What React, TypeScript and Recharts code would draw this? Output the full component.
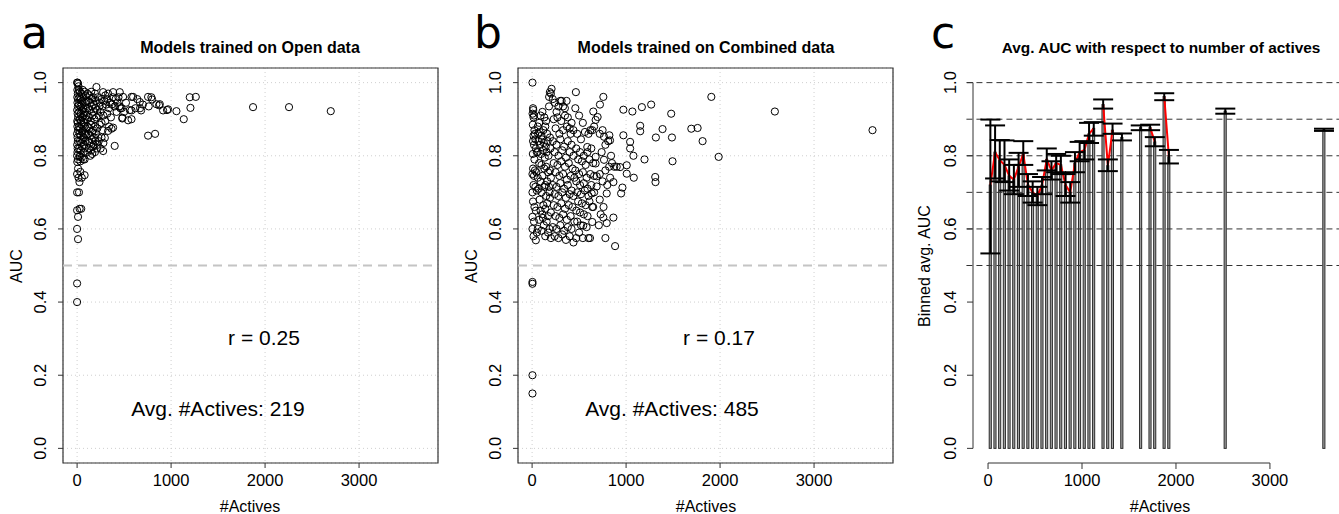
import React from 'react';
import {
  ComposedChart, Scatter, XAxis, YAxis, CartesianGrid, ReferenceLine,
  ReferenceArea, Bar, Line, ErrorBar,
} from 'recharts';

const FONT = '"Liberation Sans", Arial, Helvetica, sans-serif';

// Panel a: Models trained on Open data  [#Actives, AUC]
const openPoints: [number, number][] = [
  [0,1.0],[5,1.0],[10,0.997],[3,0.98],[8,0.97],[2,0.96],[12,0.955],[4,0.945],[9,0.935],[1,0.925],[6,0.915],[11,0.905],[2,0.895],[7,0.89],[3,0.88],[10,0.87],[0,0.86],[5,0.85],[8,0.84],[1,0.83],[6,0.82],[4,0.81],[0,0.80],[9,0.79],[2,0.783],[10,0.765],[0,0.75],[15,0.74],[25,0.728],[0,0.70],[20,0.70],[0,0.651],[27,0.655],[44,0.655],[10,0.633],[0,0.60],[10,0.572],[0,0.451],[0,0.40],
  [15,0.99],[20,0.98],[30,0.975],[45,0.97],[60,0.98],[80,0.975],[25,0.96],[40,0.955],[55,0.95],[70,0.96],[90,0.965],[18,0.94],[35,0.935],[50,0.94],[65,0.93],[85,0.945],[100,0.95],[22,0.92],[38,0.915],[52,0.925],[68,0.91],[82,0.92],[95,0.93],[28,0.90],[42,0.895],[58,0.905],[72,0.89],[88,0.90],[100,0.91],[20,0.88],[33,0.875],[48,0.885],[62,0.87],[78,0.88],[92,0.875],[25,0.86],[40,0.855],[55,0.865],[70,0.85],[85,0.86],[98,0.855],[30,0.84],[45,0.835],[60,0.845],[75,0.83],[90,0.84],[22,0.82],[38,0.815],[52,0.825],[68,0.81],[80,0.82],[30,0.80],[50,0.795],[65,0.79],[35,0.785],[80,0.79],[110,0.81],[27,0.797],[80,0.747],[35,0.756],[50,0.74],
  [110,0.97],[130,0.965],[150,0.975],[170,0.96],[206,0.988],[190,0.97],[120,0.95],[140,0.945],[160,0.955],[180,0.94],[200,0.95],[220,0.96],[240,0.945],[115,0.93],[135,0.925],[155,0.935],[175,0.92],[195,0.93],[215,0.925],[235,0.935],[105,0.90],[125,0.905],[145,0.895],[165,0.91],[185,0.90],[205,0.905],[230,0.91],[250,0.92],[110,0.88],[130,0.875],[150,0.885],[170,0.87],[190,0.88],[215,0.875],[240,0.885],[120,0.86],[140,0.855],[160,0.865],[180,0.85],[200,0.86],[225,0.85],[115,0.84],[135,0.835],[155,0.845],[175,0.83],[195,0.84],[220,0.83],[125,0.82],[150,0.815],[170,0.825],[190,0.81],[210,0.82],[140,0.80],[160,0.805],[230,0.84],
  [277,0.974],[300,0.965],[330,0.97],[383,0.974],[454,0.974],[260,0.955],[290,0.95],[320,0.955],[350,0.945],[380,0.96],[410,0.955],[440,0.96],[489,0.961],[270,0.935],[310,0.94],[340,0.93],[370,0.94],[400,0.935],[430,0.945],[460,0.93],[474,0.93],[450,0.935],[280,0.91],[320,0.915],[360,0.905],[420,0.92],[500,0.92],[483,0.904],[480,0.902],[260,0.89],[300,0.895],[340,0.88],[270,0.87],[330,0.868],[366,0.874],[383,0.877],[295,0.849],[277,0.813],[400,0.827],[260,0.85],[280,0.835],[250,0.82],
  [543,0.897],[560,0.925],[579,0.924],[579,0.961],[596,0.961],[579,0.90],[667,0.947],[670,0.93],[681,0.924],[755,0.961],[762,0.935],[790,0.96],[798,0.954],[844,0.941],[872,0.938],[880,0.941],[915,0.924],[957,0.925],[968,0.927],[1057,0.922],[1135,0.90],[1199,0.96],[1206,0.931],[1263,0.961],[755,0.855],[830,0.86],[620,0.93],[520,0.945],[640,0.955],[700,0.94],
  [1872,0.933],[2255,0.933],[2699,0.922],
];

// Panel b: Models trained on Combined data  [#Actives, AUC]
const combinedPoints: [number, number][] = [
  [4,1.0],[10,0.93],[12,0.925],[5,0.915],[15,0.905],[20,0.91],[8,0.885],[25,0.87],[15,0.855],[30,0.86],[10,0.84],[35,0.845],[20,0.83],[40,0.82],[8,0.805],[50,0.81],[25,0.79],[10,0.765],[30,0.76],[4,0.75],[20,0.745],[45,0.755],[15,0.72],[35,0.715],[4,0.70],[50,0.705],[10,0.675],[25,0.66],[40,0.65],[4,0.633],[20,0.62],[4,0.60],[15,0.58],[40,0.569],[50,0.59],[4,0.455],[4,0.45],[4,0.20],[4,0.15],
  [60,0.88],[75,0.89],[90,0.91],[110,0.92],[130,0.905],[150,0.895],[65,0.86],[80,0.865],[100,0.855],[120,0.87],[140,0.88],[160,0.86],[180,0.935],[181,0.961],[189,0.974],[207,0.983],[200,0.97],[70,0.84],[85,0.83],[105,0.845],[125,0.835],[145,0.825],[165,0.84],[190,0.85],[60,0.81],[95,0.805],[115,0.815],[135,0.795],[155,0.81],[175,0.80],[195,0.82],[75,0.78],[100,0.775],[130,0.765],[150,0.77],[170,0.755],[190,0.76],[60,0.74],[90,0.73],[110,0.745],[140,0.72],[160,0.73],[180,0.715],[200,0.74],[70,0.71],[100,0.70],[130,0.715],[150,0.69],[185,0.70],[80,0.68],[120,0.665],[160,0.67],[190,0.685],[90,0.65],[110,0.64],[140,0.655],[170,0.635],[200,0.645],[75,0.625],[125,0.61],[155,0.62],[185,0.60],[100,0.595],[140,0.58],[170,0.59],[200,0.575],[60,0.60],[115,0.63],
  [220,0.955],[240,0.945],[260,0.92],[280,0.935],[300,0.95],[314,0.95],[349,0.93],[367,0.95],[330,0.935],[350,0.91],[380,0.905],[420,0.89],[466,0.974],[230,0.90],[270,0.905],[310,0.895],[400,0.875],[440,0.87],[250,0.875],[290,0.86],[330,0.87],[370,0.88],[410,0.86],[220,0.84],[260,0.83],[300,0.845],[340,0.825],[380,0.84],[420,0.83],[240,0.81],[280,0.80],[320,0.815],[360,0.795],[400,0.81],[440,0.80],[230,0.78],[270,0.775],[310,0.785],[350,0.77],[390,0.78],[430,0.765],[250,0.755],[290,0.745],[330,0.75],[370,0.735],[410,0.745],[450,0.74],[220,0.72],[260,0.715],[300,0.725],[340,0.71],[380,0.72],[420,0.705],[240,0.695],[280,0.69],[320,0.70],[360,0.685],[400,0.695],[440,0.69],[230,0.665],[270,0.66],[310,0.67],[350,0.655],[390,0.665],[430,0.66],[250,0.635],[290,0.63],[330,0.64],[370,0.625],[410,0.635],[450,0.62],[220,0.605],[260,0.60],[300,0.61],[340,0.595],[380,0.605],[420,0.60],[240,0.58],[280,0.575],[320,0.585],[360,0.57],[400,0.58],[440,0.563],
  [460,0.93],[500,0.91],[540,0.89],[562,0.865],[587,0.824],[480,0.86],[520,0.845],[600,0.86],[640,0.87],[651,0.921],[676,0.898],[697,0.906],[620,0.87],[660,0.88],[470,0.82],[510,0.81],[550,0.80],[590,0.81],[630,0.82],[676,0.797],[676,0.779],[490,0.79],[530,0.785],[570,0.775],[610,0.79],[650,0.78],[460,0.76],[500,0.75],[540,0.755],[580,0.74],[620,0.75],[660,0.745],[687,0.744],[470,0.73],[510,0.72],[550,0.725],[590,0.71],[630,0.72],[687,0.716],[480,0.70],[520,0.695],[560,0.705],[600,0.69],[634,0.697],[660,0.70],[490,0.675],[530,0.67],[570,0.665],[610,0.675],[650,0.66],[640,0.66],[470,0.65],[510,0.645],[550,0.64],[590,0.635],[640,0.619],[480,0.62],[520,0.61],[544,0.609],[580,0.605],[616,0.575],[500,0.59],[540,0.575],[470,0.575],[600,0.575],
  [722,0.94],[758,0.961],[740,0.81],[765,0.852],[765,0.789],[794,0.697],[794,0.616],[758,0.631],[822,0.856],[829,0.842],[865,0.631],[865,0.728],[874,0.77],[883,0.553],[936,0.769],[947,0.697],[961,0.713],[971,0.856],[971,0.926],[720,0.86],[750,0.87],[780,0.83],[810,0.84],[840,0.80],[720,0.75],[750,0.73],[780,0.76],[820,0.77],[850,0.78],[720,0.68],[760,0.66],[800,0.72],[830,0.74],[900,0.77],[780,0.575],[710,0.61],[730,0.64],
  [1007,0.751],[1007,0.774],[1043,0.838],[1043,0.82],[1067,0.921],[1078,0.80],[1082,0.74],[1150,0.882],[1150,0.867],[1168,0.933],[1196,0.79],[1267,0.94],[1310,0.742],[1313,0.728],[1317,0.85],[1388,0.873],[1480,0.915],[1488,0.85],[1494,0.785],[1694,0.874],[1761,0.876],[1814,0.84],[1907,0.961],[1985,0.797],
  [2583,0.921],[3622,0.87],
];

// Panel c: binned averages (bin width 50)
const binCenters = [25,75,125,175,225,275,325,375,425,475,525,575,625,675,725,775,825,875,925,975,1025,1075,1125,1225,1275,1325,1425,1625,1725,1775,1875,1925,2525,3575];
const binMeans = [0.72,0.81,0.788,0.775,0.745,0.735,0.77,0.805,0.72,0.70,0.69,0.72,0.79,0.76,0.78,0.775,0.72,0.70,0.78,0.81,0.815,0.86,0.875,0.94,0.773,0.87,0.85,0.877,0.877,0.838,0.962,0.797,0.922,0.871];
const binLow = [0.533,0.738,0.73,0.728,0.705,0.695,0.715,0.775,0.69,0.672,0.665,0.695,0.76,0.735,0.755,0.75,0.69,0.672,0.755,0.785,0.79,0.835,0.855,0.929,0.758,0.86,0.842,0.87,0.87,0.826,0.952,0.779,0.915,0.868];
const binHigh = [0.899,0.883,0.843,0.842,0.79,0.775,0.808,0.84,0.75,0.73,0.715,0.742,0.82,0.785,0.805,0.8,0.75,0.728,0.81,0.838,0.84,0.89,0.892,0.954,0.79,0.888,0.861,0.883,0.885,0.851,0.971,0.816,0.929,0.874];
const BIN_WIDTH = 50;

const xTicks = [0, 1000, 2000, 3000];
const yTicks = [0, 0.2, 0.4, 0.6, 0.8, 1.0];
const refLevels = [0.5, 0.6, 0.7, 0.8, 0.9, 1.0];

const openData = openPoints.map(([x, y]) => ({ x, y }));
const combinedData = combinedPoints.map(([x, y]) => ({ x, y }));
const binData = binCenters.map((x, i) => ({
  x, mean: binMeans[i], err: [binMeans[i] - binLow[i], binHigh[i] - binMeans[i]],
}));
const lineData: { x: number; mean: number | null }[] = [];
binCenters.forEach((x, i) => {
  if (i > 0 && x - binCenters[i - 1] > BIN_WIDTH) lineData.push({ x: binCenters[i - 1] + BIN_WIDTH / 2, mean: null });
  lineData.push({ x, mean: binMeans[i] });
});

const Y_DOMAIN: [number, number] = [-0.04, 1.04];
const XS_DOMAIN: [number, number] = [-150, 3840];
const XC_DOMAIN: [number, number] = [-160, 3703];

const RotYTick = (p: any) => {
  const x = p.x - 10;
  return (
    <text x={x} y={p.y} transform={`rotate(-90 ${x} ${p.y})`} textAnchor="middle"
      fontSize={16.5} fill="#000" fontFamily={FONT}>{Number(p.payload.value).toFixed(1)}</text>
  );
};
const XTick = (p: any) => (
  <text x={p.x} y={p.y + 16} textAnchor="middle" fontSize={16.5} fill="#000" fontFamily={FONT}>
    {p.payload.value}
  </text>
);

const circle = (p: any) => (
  <circle cx={p.cx} cy={p.cy} r={3.6} fill="none" stroke="#000" strokeWidth={1} />
);

const barShape = (p: any) => (
  <rect x={p.x} y={p.y} width={p.width} height={p.height} fill="#a4a4a4" stroke="#2a2a2a" strokeWidth={1} />
);

function ScatterPanel({ data, left, width, yAxisWidth, rightMargin }: any) {
  return (
    <div style={{ position: 'absolute', left, top: 0 }}>
      <ComposedChart width={width} height={514} data={data}
        margin={{ top: 68, right: rightMargin, bottom: 0, left: 0 }}>
        <CartesianGrid stroke="#cfcfcf" strokeDasharray="1 3" />
        <XAxis type="number" dataKey="x" domain={XS_DOMAIN} ticks={xTicks} allowDataOverflow
          axisLine={false} tickLine={{ stroke: '#333' }} tickSize={5} tickMargin={2}
          height={51} tick={XTick} interval={0} />
        <YAxis type="number" domain={Y_DOMAIN} ticks={yTicks} allowDataOverflow
          axisLine={false} tickLine={{ stroke: '#333' }} tickSize={5} tickMargin={2}
          width={yAxisWidth} tick={RotYTick} interval={0} />
        <ReferenceLine y={0.5} stroke="#c4c4c4" strokeWidth={2} strokeDasharray="9 6" />
        <Scatter data={data} dataKey="y" shape={circle} isAnimationActive={false} />
        <ReferenceArea x1={XS_DOMAIN[0]} x2={XS_DOMAIN[1]} y1={Y_DOMAIN[0]} y2={Y_DOMAIN[1]}
          fill="none" fillOpacity={0} stroke="#333" strokeWidth={1.2} ifOverflow="visible" />
      </ComposedChart>
    </div>
  );
}

function BinPanel() {
  return (
    <div style={{ position: 'absolute', left: 900, top: 0 }}>
      <ComposedChart width={439} height={514} data={binData}
        margin={{ top: 68, right: 3, bottom: 0, left: 0 }}>
        <XAxis type="number" dataKey="x" domain={XC_DOMAIN} ticks={xTicks} allowDataOverflow
          axisLine={false} tickLine={{ stroke: '#333' }} tickSize={6} tickMargin={1}
          height={51} tick={XTick} interval={0} />
        <YAxis type="number" domain={Y_DOMAIN} ticks={yTicks} allowDataOverflow
          axisLine={false} tickLine={{ stroke: '#333' }} tickSize={6} tickMargin={1}
          width={73} tick={RotYTick} interval={0} />
        {refLevels.map((lv) => (
          <ReferenceLine key={lv} segment={[{ x: -230, y: lv }, { x: 3800, y: lv }]}
            ifOverflow="visible" stroke="#333" strokeWidth={1} strokeDasharray="6 4" />
        ))}
        <Bar dataKey="mean" barSize={4.6} shape={barShape} isAnimationActive={false} />
        <Line data={lineData} dataKey="mean" stroke="#ff0000" strokeWidth={2} dot={false}
          activeDot={false} connectNulls={false} isAnimationActive={false} type="linear" />
        <Scatter data={binData} dataKey="mean" shape={() => <g />} isAnimationActive={false}>
          <ErrorBar dataKey="err" direction="y" width={10} stroke="#000" strokeWidth={2} />
        </Scatter>
        <ReferenceLine segment={[{ x: XC_DOMAIN[0], y: 0 }, { x: XC_DOMAIN[0], y: 1 }]}
          ifOverflow="visible" stroke="#333" strokeWidth={1} />
        <ReferenceLine segment={[{ x: 0, y: Y_DOMAIN[0] }, { x: 3000, y: Y_DOMAIN[0] }]}
          ifOverflow="visible" stroke="#333" strokeWidth={1} />
      </ComposedChart>
    </div>
  );
}

const T = (props: any) => <text fontFamily={FONT} fill="#000" {...props} />;

export default function App() {
  return (
    <div style={{ position: 'fixed', left: 0, top: 0, width: 1339, height: 514, overflow: 'hidden', background: '#fff', fontFamily: FONT }}>
      <ScatterPanel data={openData} left={0} width={450} yAxisWidth={63} rightMargin={12} />
      <ScatterPanel data={combinedData} left={450} width={450} yAxisWidth={68} rightMargin={7} />
      <BinPanel />
      <svg width={1339} height={514} style={{ position: 'absolute', left: 0, top: 0, pointerEvents: 'none' }}>
        <T x={21} y={48} fontSize={44} fontFamily='"DejaVu Sans", sans-serif'>a</T>
        <T x={474} y={48} fontSize={44} fontFamily='"DejaVu Sans", sans-serif'>b</T>
        <T x={931} y={48} fontSize={44} fontFamily='"DejaVu Sans", sans-serif'>c</T>
        <T x={250} y={53} fontSize={16} fontWeight="bold" textAnchor="middle">Models trained on Open data</T>
        <T x={706} y={53} fontSize={16} fontWeight="bold" textAnchor="middle">Models trained on Combined data</T>
        <T x={1161} y={53} fontSize={15.4} fontWeight="bold" textAnchor="middle">Avg. AUC with respect to number of actives</T>
        <T x={22} y={266} fontSize={16} textAnchor="middle" transform="rotate(-90 22 266)">AUC</T>
        <T x={477} y={266} fontSize={16} textAnchor="middle" transform="rotate(-90 477 266)">AUC</T>
        <T x={930} y={266} fontSize={16} textAnchor="middle" transform="rotate(-90 930 266)">Binned avg. AUC</T>
        <T x={250} y={512} fontSize={16} textAnchor="middle">#Actives</T>
        <T x={706} y={512} fontSize={16} textAnchor="middle">#Actives</T>
        <T x={1160} y={512} fontSize={16} textAnchor="middle">#Actives</T>
        <T x={264} y={345} fontSize={21} textAnchor="middle">r = 0.25</T>
        <T x={218} y={416} fontSize={21} textAnchor="middle">Avg. #Actives: 219</T>
        <T x={719} y={345} fontSize={21} textAnchor="middle">r = 0.17</T>
        <T x={672} y={416} fontSize={21} textAnchor="middle">Avg. #Actives: 485</T>
      </svg>
    </div>
  );
}
